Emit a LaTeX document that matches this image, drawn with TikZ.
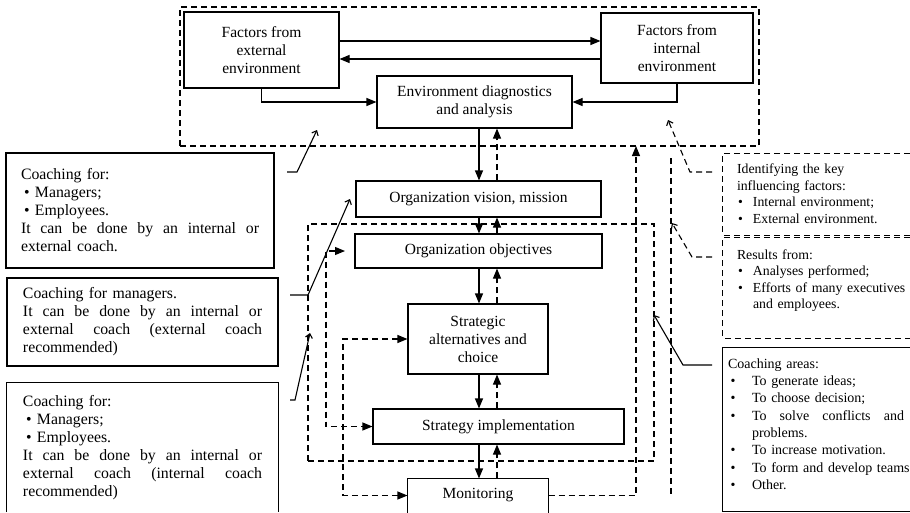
\documentclass[tikz,border=0pt]{standalone}
\usepackage{fontspec}
\setmainfont{Liberation Serif}
\usetikzlibrary{arrows.meta,calc}
\setlength\parindent{0pt}
\newcommand\lbul[1]{\leavevmode\hbox to 14pt{\hskip3pt\textbullet\hfil}#1}
\newcommand\rbul[1]{\leavevmode\hbox to 16pt{\hskip1pt\textbullet\hfil}\mbox{#1}}
\newcommand\abul[1]{\leavevmode\hbox to 24pt{\hskip2.5pt\textbullet\hfil}#1}
\tikzset{
  lw/.style={line width=1.1pt},
  mainbox/.style={draw, lw, align=center, inner sep=0pt,
    font=\fontsize{15.5pt}{18pt}\selectfont},
  dashline/.style={lw, dash pattern=on 6pt off 4pt},
  grp/.style={draw, dashline, inner sep=0pt},
  arr/.style={lw, -{Triangle[length=10pt,width=8pt]}},
  darr/.style={arr, dash pattern=on 6pt off 4pt},
  darrtwo/.style={dashline, {Triangle[length=10pt,width=8pt]}-{Triangle[length=10pt,width=8pt]}},
  ann/.style={lw, -{Straight Barb[length=4pt,width=7pt]}},
  dann/.style={ann, dash pattern=on 6pt off 4pt},
  ltext/.style={align=left, inner xsep=15pt, inner ysep=0pt,
    font=\fontsize{15.8pt}{18pt}\selectfont},
  rtext/.style={align=left, inner sep=0pt, font=\fontsize{13.8pt}{16.5pt}\selectfont},
  atext/.style={align=left, inner sep=0pt, font=\fontsize{14pt}{17.3pt}\selectfont},
  frame/.style={inner sep=0pt},
}
\begin{document}
\begin{tikzpicture}[x=1pt,y=-1pt]
\useasboundingbox (0,0) rectangle (910,512);

% groups
\node[grp, minimum width=579pt, minimum height=139pt] (topgrp) at (469.5,76.5) {};
\node[grp, minimum width=346pt, minimum height=237pt] (midgrp) at (481,342.5) {};

% main boxes
\node[mainbox, fill=white, minimum width=155pt, minimum height=76pt] (ext) at (261.5,50) {Factors from\\external\\environment};
\node[mainbox, fill=white, minimum width=152pt, minimum height=70pt] (int) at (677,48) {Factors from\\internal\\environment};
\node[mainbox, minimum width=195pt, minimum height=52pt] (env) at (474.5,102) {Environment diagnostics\\and analysis};
\node[mainbox, minimum width=245pt, minimum height=36pt] (vis) at (478.5,199) {Organization vision, mission};
\node[mainbox, minimum width=247pt, minimum height=34pt] (obj) at (478.5,251) {Organization objectives};
\node[mainbox, minimum width=140pt, minimum height=70pt] (strat) at (478,339) {Strategic\\alternatives and\\choice};
\node[mainbox, minimum width=251pt, minimum height=35pt] (impl) at (498.5,426.5) {Strategy implementation};
\node[mainbox, draw=none, minimum width=140pt, minimum height=33pt] (mon) at (478,495.5) {Monitoring};
\draw[lw] (mon.south west) -- (mon.north west) -- (mon.north east) -- (mon.south east);

% column / row helpers
\coordinate (c1) at (479,0);
\coordinate (c2) at (497,0);
\coordinate (r1) at (0,41);
\coordinate (r2) at (0,59);

% top arrows
\draw[arr] (ext.east |- r1) -- (int.west |- r1);
\draw[arr] (int.west |- r2) -- (ext.east |- r2);
\draw[arr] (ext.south) |- (env.west);
\draw[arr] (int.south) |- (env.east);

% vertical chain
\draw[arr] (env.south -| c1) -- (vis.north -| c1);
\draw[darr] (vis.north -| c2) -- (env.south -| c2);
\draw[arr] (vis.south -| c1) -- (obj.north -| c1);
\draw[darr] (obj.north -| c2) -- (vis.south -| c2);
\draw[arr] (obj.south -| c1) -- (strat.north -| c1);
\draw[darr] (strat.north -| c2) -- (obj.south -| c2);
\draw[arr] (strat.south -| c1) -- (impl.north -| c1);
\draw[darr] (impl.north -| c2) -- (strat.south -| c2);
\draw[arr] (impl.south -| c1) -- (mon.north -| c1);
\draw[darr] (mon.north -| c2) -- (impl.south -| c2);

% feedback loops
\coordinate (la) at (326,0);
\coordinate (lb) at (343,0);
\coordinate (objin) at (345,251);
\draw[darrtwo] (objin) -- (obj.west -| la) -- (impl.west -| la) -- (impl.west);
\draw[darrtwo] (strat.west) -- (strat.west -| lb) -- (mon.west -| lb) -- (mon.west);
\coordinate (ra) at (636,146);
\draw[darr] (mon.east) -| (ra);
\coordinate (bt) at (671,158);
\coordinate (bb) at (671,497);
\draw[dashline] (bt) -- (bb);

% left annotation boxes
\node[ltext, draw, lw, text width=238pt, minimum height=115pt] (L1) at (140,210.5) {Coaching for:\\
\lbul{Managers;}\\
\lbul{Employees.}\\
\leavevmode\hbox to 238pt{It\hfil can\hfil be\hfil done\hfil by\hfil an\hfil internal\hfil or}\\
external coach.};
\node[ltext, draw, lw, inner xsep=16pt, text width=239pt, minimum height=88pt] (L2) at (142.5,322) {Coaching for managers.\\
\leavevmode\hbox to 239pt{It\hfil can\hfil be\hfil done\hfil by\hfil an\hfil internal\hfil or}\\
\leavevmode\hbox to 239pt{external\hfil coach\hfil (external\hfil coach}\\
recommended)};
\node[ltext, inner xsep=16pt, text width=239pt, minimum height=129pt] (L3) at (142.5,447.5) {Coaching for:\\
\lbul{Managers;}\\
\lbul{Employees.}\\
\leavevmode\hbox to 239pt{It\hfil can\hfil be\hfil done\hfil by\hfil an\hfil internal\hfil or}\\
\leavevmode\hbox to 239pt{external\hfil coach\hfil (internal\hfil coach}\\
recommended)};
\draw[lw] (L3.south west) -- (L3.north west) -- (L3.north east) -- (L3.south east);

% left connectors
\coordinate (a1s) at (287,172); \coordinate (a1m) at (297,172); \coordinate (a1e) at (317,130);
\draw[ann] (a1s) -- (a1m) -- (a1e);
\coordinate (a2s) at (290,295); \coordinate (a2m) at (308,295); \coordinate (a2e) at (350,199);
\draw[ann] (a2s) -- (a2m) -- (a2e);
\coordinate (a3s) at (290,400); \coordinate (a3m) at (295,400); \coordinate (a3e) at (310,333);
\draw[ann] (a3s) -- (a3m) -- (a3e);

% right annotation boxes
\node[frame, minimum width=187pt, minimum height=81pt] (idframe) at (816.5,194.5) {};
\draw[dashline] (idframe.north east) -- (idframe.north west) -- (idframe.south west) -- (idframe.south east);
\node[rtext, text width=172pt, anchor=west] (idtext) at ($(idframe.west)+(14,-1)$) {Identifying the key\\
influencing factors:\\
\rbul{Internal environment;}\\
\rbul{External environment.}};

\node[frame, minimum width=187pt, minimum height=100pt] (resframe) at (816.5,288) {};
\draw[dashline] (resframe.north east) -- (resframe.north west) -- (resframe.south west) -- (resframe.south east);
\node[rtext, text width=172pt, anchor=west] (restext) at ($(resframe.west)+(14,-7.5)$) {Results from:\\
\rbul{Analyses performed;}\\
\rbul{Efforts of many executives}\\
\hspace*{16pt}and employees.};

\node[frame, minimum width=187pt, minimum height=163pt] (arframe) at (816.5,429.5) {};
\draw[lw] (arframe.north east) -- (arframe.north west) -- (arframe.south west) -- (arframe.south east);
\node[atext, text width=182pt, anchor=west] (artext) at ($(arframe.west)+(5,-5.5)$) {Coaching areas:\\
\abul{To generate ideas;}\\
\abul{To choose decision;}\\
\abul{\hbox to 152pt{To\hfil solve\hfil conflicts\hfil and}}\\
\hspace*{24pt}problems.\\
\abul{To increase motivation.}\\
\abul{To form and develop teams}\\
\abul{Other.}};

% right connectors
\coordinate (b1s) at (712,172); \coordinate (b1m) at (690,172); \coordinate (b1e) at (668,120);
\draw[dann] (b1s) -- (b1m) -- (b1e);
\coordinate (b2s) at (712,257); \coordinate (b2m) at (692,257); \coordinate (b2e) at (672,223);
\draw[dann] (b2s) -- (b2m) -- (b2e);
\coordinate (b3s) at (712,365); \coordinate (b3m) at (683,365); \coordinate (b3e) at (654,315);
\draw[ann] (b3s) -- (b3m) -- (b3e);
\end{tikzpicture}
\end{document}
